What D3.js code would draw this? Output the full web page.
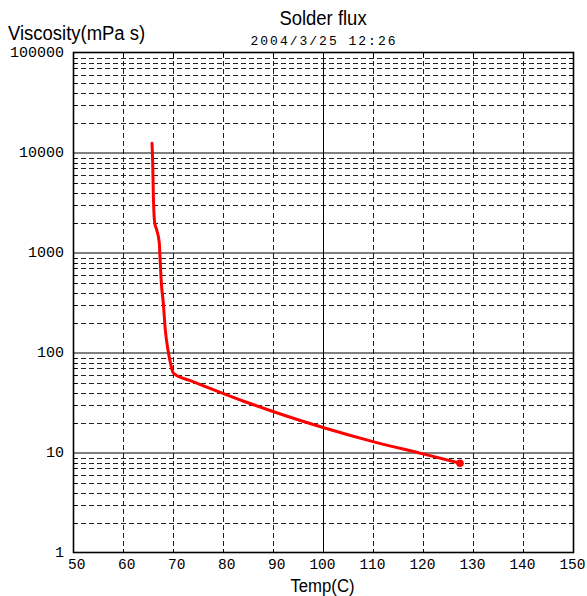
<!DOCTYPE html>
<html><head><meta charset="utf-8">
<script src="https://cdn.jsdelivr.net/npm/d3@7"></script>
<style>
html,body{margin:0;padding:0;background:#fff;}
svg{display:block;}
</style>
</head><body>
<svg id="c" width="587" height="596"></svg>
<script>
const title = "Solder flux";
const subtitle = "2004/3/25 12:26";
const yLabel = "Viscosity(mPa s)";
const xLabel = "Temp(C)";
const xTicks = [50, 60, 70, 80, 90, 100, 110, 120, 130, 140, 150];
const yTicks = [1, 10, 100, 1000, 10000, 100000];
const temps = [65.8, 65.94, 66.06, 66.34, 66.74, 67.26, 67.4, 67.67, 68.06, 68.46, 69.0, 69.5, 70.07, 74.0, 80.0, 85.0, 90.0, 95.0, 100.0, 110.0, 120.0, 127.4];
const visc  = [12500, 7940, 3980, 2000, 1700, 1260, 910, 500, 316, 170, 107, 79, 63, 51.7, 39.5, 31.8, 26.0, 21.5, 18.0, 13.0, 9.8, 7.9];

const svg = d3.select("#c");
const L = 73, R = 573, T = 53, B = 553;
const x = d3.scaleLinear().domain([50, 150]).range([L, R]);
const y = d3.scaleLog().domain([1, 100000]).range([B, T]);

const minor = [];
for (let d = 1; d < 100000; d *= 10) for (let k = 2; k <= 9; k++) minor.push(d * k);

const g = svg.append("g");
g.selectAll("line.hm").data(minor).join("line")
  .attr("x1", L).attr("x2", R)
  .attr("y1", d => Math.round(y(d)) + 0.5).attr("y2", d => Math.round(y(d)) + 0.5)
  .attr("stroke", "#222").attr("stroke-width", 1).attr("stroke-dasharray", "5,3");
g.selectAll("line.vm").data(xTicks.filter(d => d !== 50 && d !== 150 && d !== 100)).join("line")
  .attr("x1", d => Math.round(x(d)) + 0.5).attr("x2", d => Math.round(x(d)) + 0.5)
  .attr("y1", T).attr("y2", B)
  .attr("stroke", "#222").attr("stroke-width", 1).attr("stroke-dasharray", "5,3");
g.selectAll("line.hd").data(yTicks.filter(d => d !== 1 && d !== 100000)).join("line")
  .attr("x1", L).attr("x2", R)
  .attr("y1", d => y(d)).attr("y2", d => y(d))
  .attr("stroke", "#000").attr("stroke-width", 1);
g.append("line").attr("x1", x(100) + 0.5).attr("x2", x(100) + 0.5).attr("y1", T).attr("y2", B)
  .attr("stroke", "#000").attr("stroke-width", 1);

const tl = 4;
g.selectAll("line.lt").data(minor).join("line")
  .attr("x1", L).attr("x2", L + tl)
  .attr("y1", d => Math.round(y(d)) + 0.5).attr("y2", d => Math.round(y(d)) + 0.5)
  .attr("stroke", "#000");
g.selectAll("line.rt").data(minor).join("line")
  .attr("x1", R - tl).attr("x2", R)
  .attr("y1", d => Math.round(y(d)) + 0.5).attr("y2", d => Math.round(y(d)) + 0.5)
  .attr("stroke", "#000");
g.selectAll("line.tt").data(xTicks).join("line")
  .attr("x1", d => Math.round(x(d)) + 0.5).attr("x2", d => Math.round(x(d)) + 0.5)
  .attr("y1", T).attr("y2", T + tl).attr("stroke", "#000");
g.selectAll("line.bt").data(xTicks).join("line")
  .attr("x1", d => Math.round(x(d)) + 0.5).attr("x2", d => Math.round(x(d)) + 0.5)
  .attr("y1", B - tl).attr("y2", B).attr("stroke", "#000");

g.append("rect").attr("x", L + 0.5).attr("y", T - 0.5).attr("width", R - L).attr("height", B - T)
  .attr("fill", "none").attr("stroke", "#000").attr("stroke-width", 1.6);

const mono = "'Liberation Mono', 'DejaVu Sans Mono', monospace";
svg.append("g").selectAll("text").data(yTicks).join("text")
  .attr("x", 64).attr("y", d => y(d) + 3.5)
  .attr("text-anchor", "end").attr("font-family", mono).attr("font-size", 15)
  .attr("fill", "#000").text(d => String(d));
svg.append("g").selectAll("text").data(xTicks).join("text")
  .attr("x", d => x(d) + 12.5).attr("y", 569)
  .attr("text-anchor", "end").attr("font-family", mono).attr("font-size", 14.5)
  .attr("fill", "#000").text(d => String(d));

const sans = "'Liberation Sans', Arial, sans-serif";
function label(txt, cx, by, anchor, fs) {
  svg.append("text")
    .attr("transform", `translate(${cx},${by}) scale(0.88,1)`)
    .attr("text-anchor", anchor).attr("font-family", sans).attr("font-size", fs)
    .attr("fill", "#000").text(txt);
}
label(title, 323, 25, "middle", 21);
label(yLabel, 8, 40, "start", 21);
label(xLabel, 322.5, 592, "middle", 19);
svg.append("text").attr("x", 324).attr("y", 45).attr("text-anchor", "middle")
  .attr("font-family", mono).attr("font-size", 13).attr("letter-spacing", 2)
  .attr("fill", "#000").text(subtitle);

const pts = temps.map((t, i) => [t, visc[i]]);
svg.append("path").datum(pts)
  .attr("d", d3.line().x(d => x(d[0])).y(d => y(d[1])).curve(d3.curveMonotoneX))
  .attr("fill", "none").attr("stroke", "#ff0000").attr("stroke-width", 3)
  .attr("stroke-linejoin", "round").attr("stroke-linecap", "round");
const last = pts[pts.length - 1];
svg.append("circle").attr("cx", x(last[0])).attr("cy", y(last[1])).attr("r", 3.8).attr("fill", "#ff0000");
</script>
</body></html>
